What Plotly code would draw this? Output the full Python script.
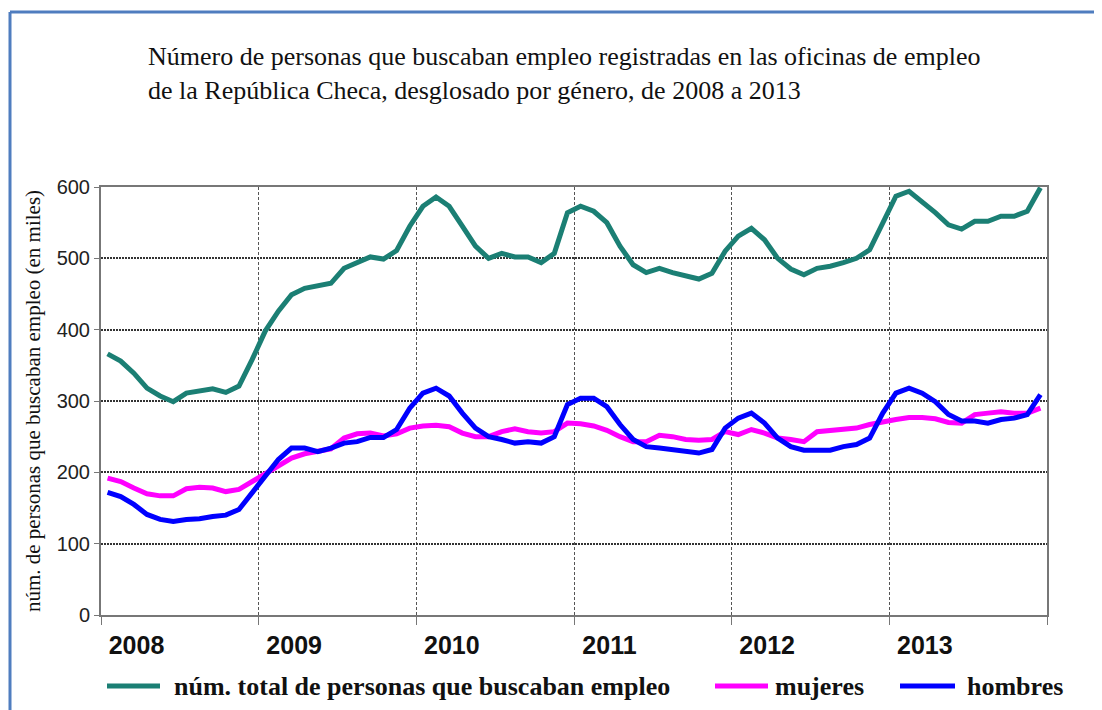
import plotly.graph_objects as go

years = ["2008", "2009", "2010", "2011", "2012", "2013"]

total = [366, 356, 339, 318, 307, 299, 311, 314, 317, 312, 321, 358,
         398, 426, 449, 458, 461, 465, 486, 494, 502, 499, 511, 545,
         573, 586, 573, 545, 517, 500, 507, 502, 502, 494, 507, 564,
         573, 566, 550, 517, 491, 480, 486, 480, 475, 471, 479, 510,
         531, 542, 526, 500, 485, 477, 486, 489, 494, 500, 512, 550,
         587, 594, 580, 564, 547, 541, 552, 552, 559, 559, 566, 599]

mujeres = [192, 187, 178, 170, 167, 167, 177, 179, 178, 173, 176, 187,
           199, 211, 220, 226, 229, 233, 248, 254, 255, 251, 254, 262,
           265, 266, 264, 255, 250, 250, 257, 261, 257, 255, 257, 269,
           268, 265, 259, 250, 243, 243, 252, 250, 246, 245, 246, 257,
           253, 260, 255, 248, 246, 243, 257, 259, 260, 262, 267, 271,
           274, 277, 277, 275, 270, 269, 281, 283, 285, 283, 283, 290]

hombres = [172, 166, 155, 141, 134, 131, 134, 135, 138, 140, 148, 171,
           194, 218, 234, 234, 229, 234, 241, 243, 249, 249, 260, 290,
           311, 318, 307, 283, 262, 250, 246, 241, 243, 241, 250, 295,
           304, 304, 292, 267, 246, 236, 234, 232, 229, 227, 232, 262,
           276, 283, 269, 248, 236, 231, 231, 231, 236, 239, 248, 283,
           311, 318, 311, 299, 281, 272, 272, 269, 274, 276, 281, 309]

names = ["núm. total de personas que buscaban empleo", "mujeres", "hombres"]
colors = ["#1b7f74", "#ff00ff", "#0000ff"]

months = list(range(len(total)))

fig = go.Figure()
for name, vals, col in zip(names, [total, mujeres, hombres], colors):
    fig.add_trace(go.Scatter(x=months, y=vals, mode="lines", name=name,
                             showlegend=False,
                             line=dict(color=col, width=5)))

year_starts = [12 * i for i in range(len(years))]
label_pos = [s + 2.2 for s in year_starts]
bounds = [-0.5 + 12 * i for i in range(len(years) + 1)]

# plot area (figure px): left 93, top 179, width 946, height 428
L, T, W, H = 93, 179, 946, 428
SERIF = "Liberation Serif, Times New Roman, serif"

fig.update_layout(
    width=1102, height=710,
    paper_bgcolor="white", plot_bgcolor="white",
    margin=dict(l=L, r=1102 - L - W, t=T, b=710 - T - H),
    title=dict(
        text="Número de personas que buscaban empleo registradas en las oficinas de empleo<br>de la República Checa, desglosado por género, de 2008 a 2013",
        x=140 / 1102, xanchor="left", xref="container",
        y=1 - 57 / 710, yanchor="top", yref="container",
        font=dict(family=SERIF, size=26, color="#111")),
    showlegend=False,
    font=dict(family="Liberation Sans, Arial, sans-serif"),
)

fig.update_xaxes(
    range=[-0.5, len(total) - 0.5],
    tickvals=label_pos, ticktext=years, ticks="",
    ticklabelstandoff=7,
    showgrid=False, zeroline=False,
    showline=True, linecolor="#777", linewidth=2, mirror=True,
    tickfont=dict(family="Liberation Sans, Arial, sans-serif",
                  size=25, color="#111", weight="bold"),
    minor=dict(tickvals=bounds, ticks="outside", ticklen=8, tickcolor="#777", tickwidth=1,
               showgrid=True, gridcolor="#555", griddash="3px,2px", gridwidth=1),
)
fig.update_yaxes(
    range=[0, 600], dtick=100,
    ticks="outside", ticklen=5, tickcolor="#777",
    showgrid=True, gridcolor="#333", griddash="2px,1px", gridwidth=1.5,
    zeroline=False,
    showline=True, linecolor="#777", linewidth=2, mirror=True,
    tickfont=dict(family="Liberation Sans, Arial, sans-serif", size=20, color="#222"),
    title=dict(text="núm. de personas que buscaban empleo (en miles)",
               font=dict(family=SERIF, size=21, color="#111"),
               standoff=10),
)

# legend drawn below the plot (page px positions, page has 8px body offset)
def px(xpage):
    return (xpage - 8 - L) / W

ly = -((686 - 8) - (T + H)) / H
legend_items = [(107, 160, 172), (715, 768, 773), (900, 955, 965)]
for (x0, x1, xt), name, col in zip(legend_items, names, colors):
    fig.add_shape(type="line", xref="paper", yref="paper", x0=px(x0), x1=px(x1), y0=ly, y1=ly,
                  line=dict(color=col, width=5))
    fig.add_annotation(text=name, xref="paper", yref="paper", x=px(xt), y=ly,
                       xanchor="left", yanchor="middle", showarrow=False,
                       font=dict(family=SERIF, size=26, color="#111", weight="bold"))

# frame border (page top ~12px, left ~10px)
fy = 1 + (T - 4) / H
fx = (2 - L) / W
fig.add_shape(type="line", xref="paper", yref="paper", x0=fx, x1=1.2, y0=fy, y1=fy,
              line=dict(color="#4f7dbf", width=3))
fig.add_shape(type="line", xref="paper", yref="paper", x0=fx, x1=fx, y0=fy, y1=-0.4,
              line=dict(color="#4f7dbf", width=3))

fig.write_html("out.html")
